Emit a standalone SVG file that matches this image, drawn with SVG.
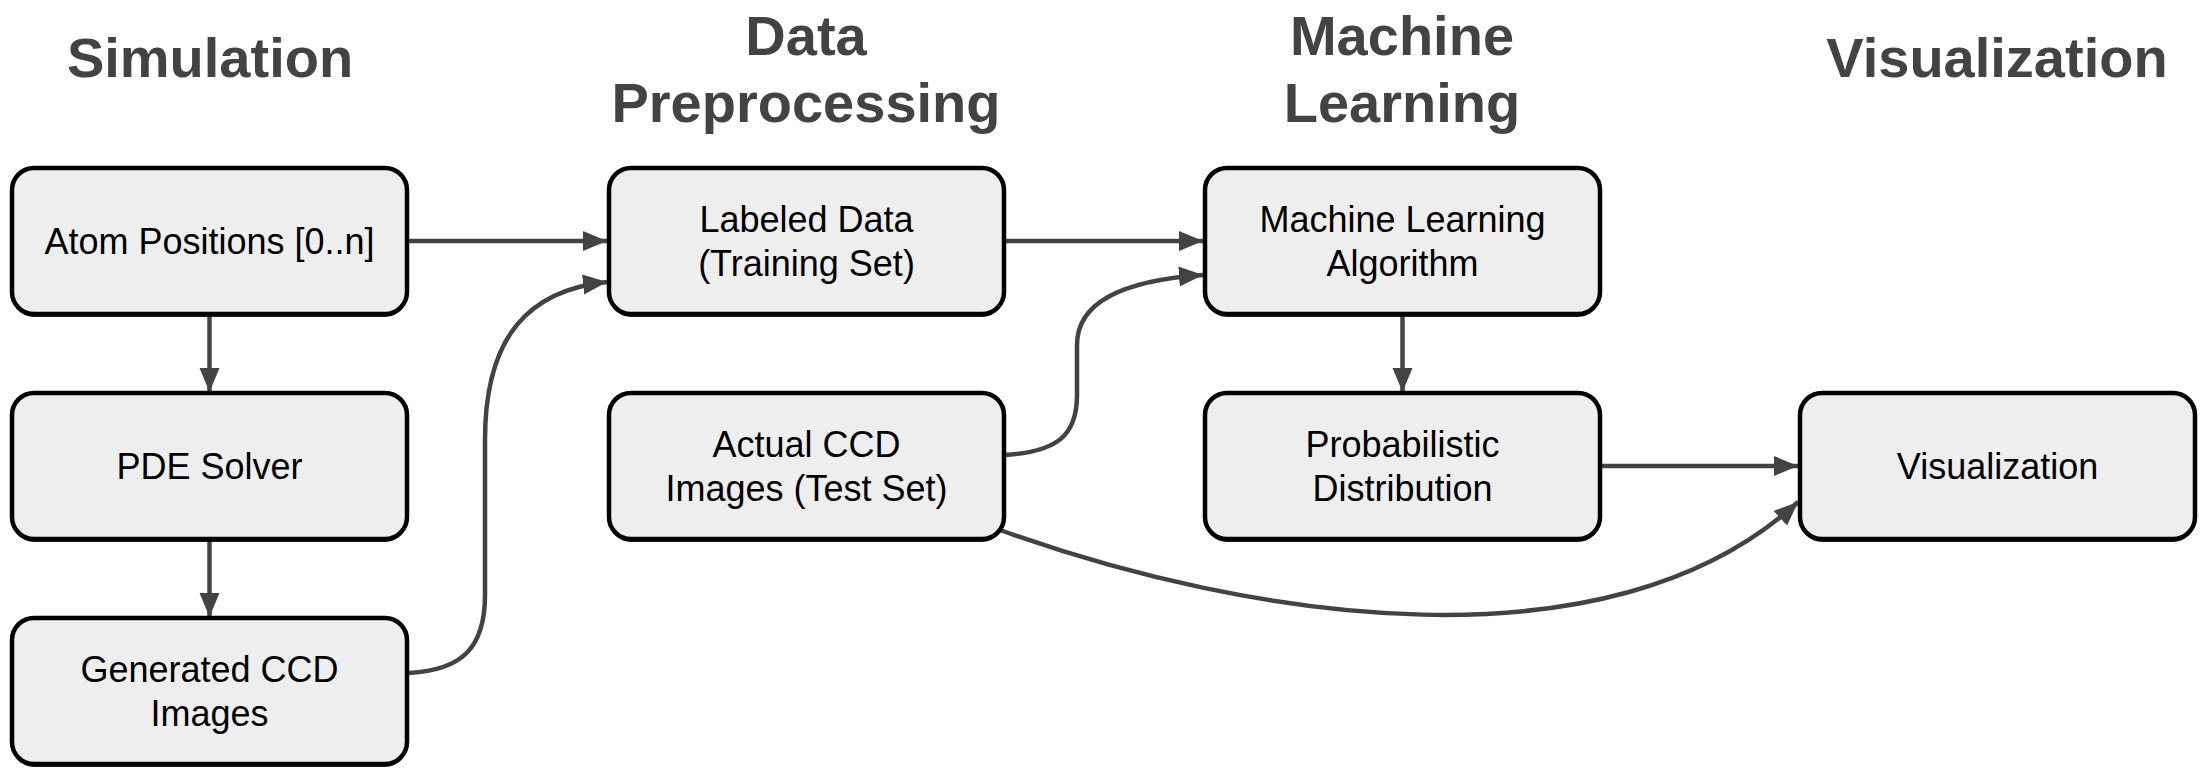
<svg xmlns="http://www.w3.org/2000/svg" width="2212" height="782" viewBox="0 0 2212 782">
<style>
.title{font-family:"Liberation Sans",Arial,sans-serif;font-weight:bold;font-size:56px;fill:#434343;text-anchor:middle}
.box{fill:#eeeeee;stroke:#000;stroke-width:4.5}
.shadow{fill:#000;opacity:0.85}
.lbl{font-family:"Liberation Sans",Arial,sans-serif;font-size:36px;fill:#000;text-anchor:middle}
.conn{fill:none;stroke:#434343;stroke-width:4.5}
</style>
<defs>
<marker id="arrow" markerUnits="userSpaceOnUse" markerWidth="26" markerHeight="22" refX="24" refY="11" orient="auto">
<path d="M0,1 L24,11 L0,21 z" fill="#434343"/>
</marker>
</defs>
<rect width="2212" height="782" fill="#fff"/>
<g id="titles">
<text class="title" x="210" y="77">Simulation</text>
<text class="title" x="806" y="55">Data</text>
<text class="title" x="806" y="122">Preprocessing</text>
<text class="title" x="1402" y="55">Machine</text>
<text class="title" x="1402" y="122">Learning</text>
<text class="title" x="1997" y="77">Visualization</text>
</g>
<g id="connectors">
<path class="conn" d="M407,241 L607,241" marker-end="url(#arrow)"/>
<path class="conn" d="M1002,241 L1203,241" marker-end="url(#arrow)"/>
<path class="conn" d="M1599,466 L1798,466" marker-end="url(#arrow)"/>
<path class="conn" d="M209.5,316 L209.5,392" marker-end="url(#arrow)"/>
<path class="conn" d="M209.5,541 L209.5,617" marker-end="url(#arrow)"/>
<path class="conn" d="M1402.5,316 L1402.5,392" marker-end="url(#arrow)"/>
<path class="conn" d="M409,673 C462,670 485,648 485,595 L485,440 C485,335 530,290 607,282" marker-end="url(#arrow)"/>
<path class="conn" d="M1004,455 C1058,452 1077,435 1077,395 L1077,345 C1077,300 1128,280 1203,275" marker-end="url(#arrow)"/>
<path class="conn" d="M1000,530 C1250,620 1610,675 1798,502" marker-end="url(#arrow)"/>
</g>
<g id="atom">
<rect class="shadow" x="12" y="171" width="395" height="146" rx="22"/>
<rect class="box" x="12" y="168" width="395" height="146" rx="22"/>
<text class="lbl" x="209.5" y="254">Atom Positions [0..n]</text>
</g>
<g id="pde">
<rect class="shadow" x="12" y="396" width="395" height="146" rx="22"/>
<rect class="box" x="12" y="393" width="395" height="146" rx="22"/>
<text class="lbl" x="209.5" y="479">PDE Solver</text>
</g>
<g id="generated">
<rect class="shadow" x="12" y="621" width="395" height="146" rx="22"/>
<rect class="box" x="12" y="618" width="395" height="146" rx="22"/>
<text class="lbl" x="209.5" y="682">Generated CCD</text>
<text class="lbl" x="209.5" y="726">Images</text>
</g>
<g id="labeled">
<rect class="shadow" x="609" y="171" width="395" height="146" rx="22"/>
<rect class="box" x="609" y="168" width="395" height="146" rx="22"/>
<text class="lbl" x="806.5" y="232">Labeled Data</text>
<text class="lbl" x="806.5" y="276">(Training Set)</text>
</g>
<g id="actual">
<rect class="shadow" x="609" y="396" width="395" height="146" rx="22"/>
<rect class="box" x="609" y="393" width="395" height="146" rx="22"/>
<text class="lbl" x="806.5" y="457">Actual CCD</text>
<text class="lbl" x="806.5" y="501">Images (Test Set)</text>
</g>
<g id="ml">
<rect class="shadow" x="1205" y="171" width="395" height="146" rx="22"/>
<rect class="box" x="1205" y="168" width="395" height="146" rx="22"/>
<text class="lbl" x="1402.5" y="232">Machine Learning</text>
<text class="lbl" x="1402.5" y="276">Algorithm</text>
</g>
<g id="prob">
<rect class="shadow" x="1205" y="396" width="395" height="146" rx="22"/>
<rect class="box" x="1205" y="393" width="395" height="146" rx="22"/>
<text class="lbl" x="1402.5" y="457">Probabilistic</text>
<text class="lbl" x="1402.5" y="501">Distribution</text>
</g>
<g id="vis">
<rect class="shadow" x="1800" y="396" width="395" height="146" rx="22"/>
<rect class="box" x="1800" y="393" width="395" height="146" rx="22"/>
<text class="lbl" x="1997.5" y="479">Visualization</text>
</g>
</svg>
